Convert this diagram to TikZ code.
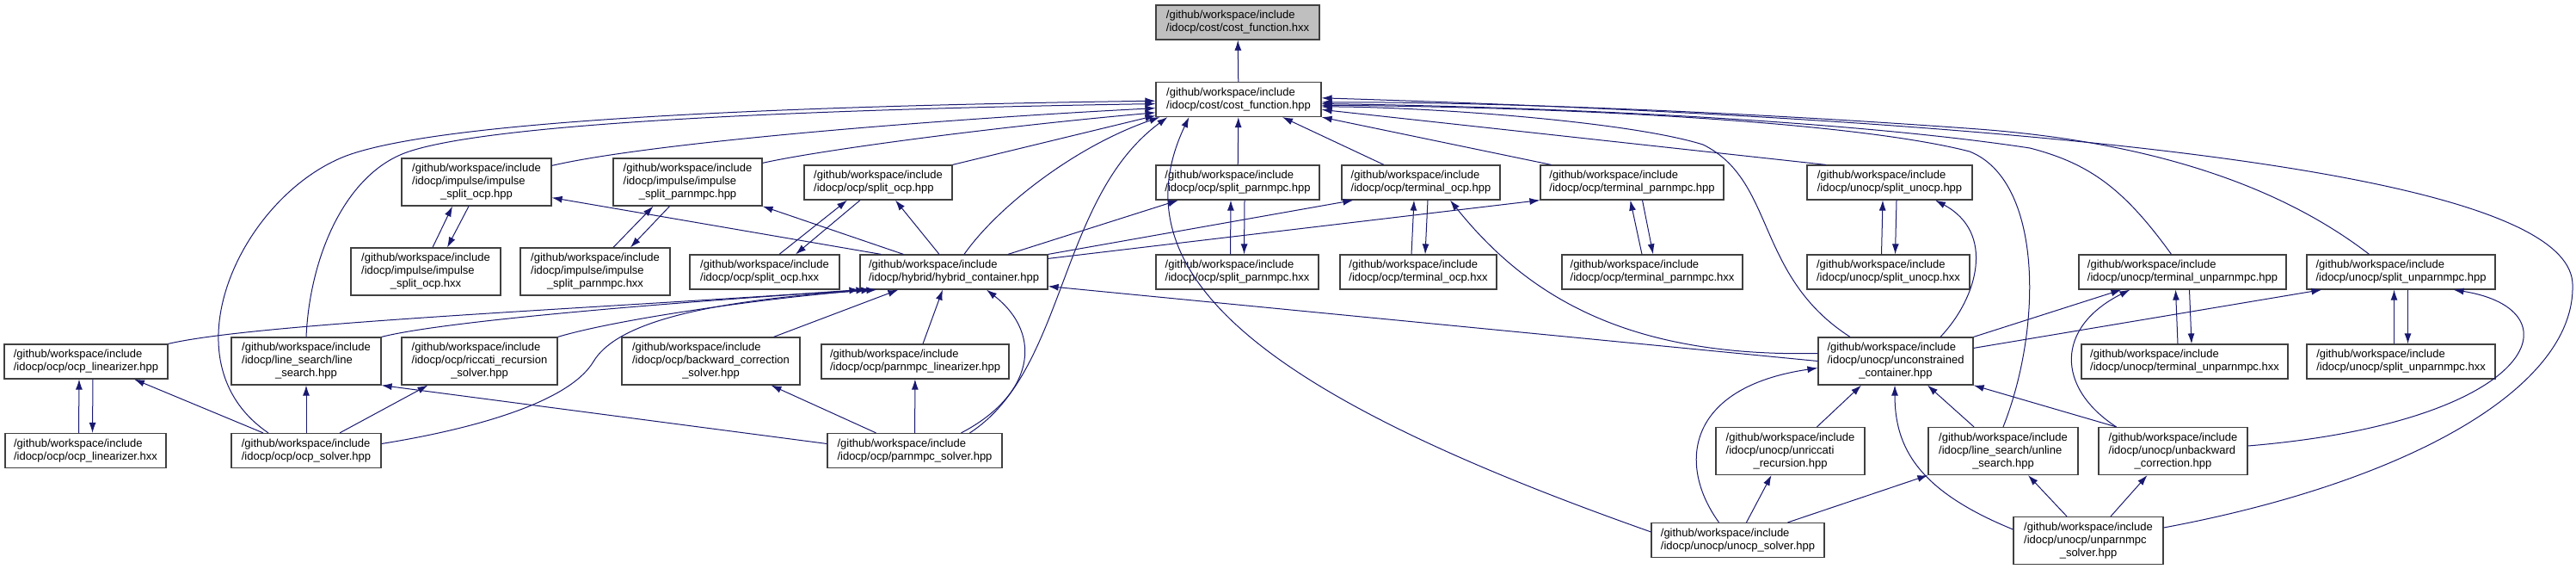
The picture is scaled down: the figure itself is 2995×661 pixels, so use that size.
\documentclass[tikz,border=0pt]{standalone}
\usepackage{fontspec}
\setmainfont{Liberation Sans}
\usepackage{xcolor}
\usepackage{tikz}
\usetikzlibrary{arrows.meta}
\definecolor{edgeblue}{RGB}{25,25,112}
\definecolor{rootgray}{RGB}{191,191,191}
\definecolor{boxline}{RGB}{64,64,64}
\newcommand{\filelines}[3]{\begin{tabular}{@{}l@{}}#1\\#2\\\multicolumn{1}{@{}c@{}}{#3}\end{tabular}}

\begin{document}
\begin{tikzpicture}[x=1pt,y=-1pt]
  % who includes cost_function.hxx
  \tikzset{file/.style={draw=boxline,line width=1.2pt,fill=white,minimum height=40pt,inner sep=0pt,align=left,font=\fontsize{13}{15}\selectfont},
    tall/.style={file,minimum height=55pt},
    root/.style={file,fill=rootgray},
    dep/.style={-{Latex[length=12pt,width=8pt]},draw=edgeblue,line width=1pt}}
  \useasboundingbox (0,0) rectangle (2995,661);
  \node[root,minimum width=190pt] (costhxx) at (1439,26) {/github/workspace/include\\/idocp/cost/cost\_function.hxx};
  \node[file,minimum width=192pt] (costhpp) at (1440,115.5) {/github/workspace/include\\/idocp/cost/cost\_function.hpp};
  \node[tall,minimum width=174pt] (impocp) at (554,211.5) {\filelines{/github/workspace/include}{/idocp/impulse/impulse}{\_split\_ocp.hpp}};
  \node[tall,minimum width=173pt] (imppar) at (799.5,211.5) {\filelines{/github/workspace/include}{/idocp/impulse/impulse}{\_split\_parnmpc.hpp}};
  \node[file,minimum width=172pt] (splitocp) at (1021,212) {/github/workspace/include\\/idocp/ocp/split\_ocp.hpp};
  \node[file,minimum width=190pt] (splitpar) at (1439,212) {/github/workspace/include\\/idocp/ocp/split\_parnmpc.hpp};
  \node[file,minimum width=184pt] (termocp) at (1652,212) {/github/workspace/include\\/idocp/ocp/terminal\_ocp.hpp};
  \node[file,minimum width=213pt] (termpar) at (1897.5,212) {/github/workspace/include\\/idocp/ocp/terminal\_parnmpc.hpp};
  \node[file,minimum width=192pt] (splitunocp) at (2197,212) {/github/workspace/include\\/idocp/unocp/split\_unocp.hpp};
  \node[tall,minimum width=174pt] (impocpx) at (495,315.5) {\filelines{/github/workspace/include}{/idocp/impulse/impulse}{\_split\_ocp.hxx}};
  \node[tall,minimum width=174pt] (impparx) at (692,315.5) {\filelines{/github/workspace/include}{/idocp/impulse/impulse}{\_split\_parnmpc.hxx}};
  \node[file,minimum width=174pt] (splitocpx) at (889,316) {/github/workspace/include\\/idocp/ocp/split\_ocp.hxx};
  \node[file,minimum width=218pt] (hybrid) at (1109,316) {/github/workspace/include\\/idocp/hybrid/hybrid\_container.hpp};
  \node[file,minimum width=189pt] (splitparx) at (1438.5,316) {/github/workspace/include\\/idocp/ocp/split\_parnmpc.hxx};
  \node[file,minimum width=182pt] (termocpx) at (1649,316) {/github/workspace/include\\/idocp/ocp/terminal\_ocp.hxx};
  \node[file,minimum width=210pt] (termparx) at (1921,316) {/github/workspace/include\\/idocp/ocp/terminal\_parnmpc.hxx};
  \node[file,minimum width=189pt] (splitunocpx) at (2195.5,316) {/github/workspace/include\\/idocp/unocp/split\_unocp.hxx};
  \node[file,minimum width=241pt] (termun) at (2537.5,316) {/github/workspace/include\\/idocp/unocp/terminal\_unparnmpc.hpp};
  \node[file,minimum width=219pt] (splitun) at (2791.5,316) {/github/workspace/include\\/idocp/unocp/split\_unparnmpc.hpp};
  \node[file,minimum width=190pt] (ocplin) at (100,420) {/github/workspace/include\\/idocp/ocp/ocp\_linearizer.hpp};
  \node[tall,minimum width=174pt] (linesearch) at (356,419.5) {\filelines{/github/workspace/include}{/idocp/line\_search/line}{\_search.hpp}};
  \node[tall,minimum width=181pt] (riccati) at (557.5,419.5) {\filelines{/github/workspace/include}{/idocp/ocp/riccati\_recursion}{\_solver.hpp}};
  \node[tall,minimum width=207pt] (backcorr) at (826.5,419.5) {\filelines{/github/workspace/include}{/idocp/ocp/backward\_correction}{\_solver.hpp}};
  \node[file,minimum width=218pt] (parlin) at (1064,420) {/github/workspace/include\\/idocp/ocp/parnmpc\_linearizer.hpp};
  \node[tall,minimum width=180pt] (uncon) at (2204,419.5) {\filelines{/github/workspace/include}{/idocp/unocp/unconstrained}{\_container.hpp}};
  \node[file,minimum width=240pt] (termunx) at (2540,420) {/github/workspace/include\\/idocp/unocp/terminal\_unparnmpc.hxx};
  \node[file,minimum width=219pt] (splitunx) at (2791.5,420) {/github/workspace/include\\/idocp/unocp/split\_unparnmpc.hxx};
  \node[file,minimum width=187pt] (ocplinx) at (99.5,523.5) {/github/workspace/include\\/idocp/ocp/ocp\_linearizer.hxx};
  \node[file,minimum width=174pt] (ocpsolver) at (356,523.5) {/github/workspace/include\\/idocp/ocp/ocp\_solver.hpp};
  \node[file,minimum width=203pt] (parsolver) at (1063.5,523.5) {/github/workspace/include\\/idocp/ocp/parnmpc\_solver.hpp};
  \node[tall,minimum width=173pt] (unriccati) at (2081.5,524) {\filelines{/github/workspace/include}{/idocp/unocp/unriccati}{\_recursion.hpp}};
  \node[tall,minimum width=174pt] (unline) at (2329,524) {\filelines{/github/workspace/include}{/idocp/line\_search/unline}{\_search.hpp}};
  \node[tall,minimum width=173pt] (unback) at (2526.5,524) {\filelines{/github/workspace/include}{/idocp/unocp/unbackward}{\_correction.hpp}};
  \node[file,minimum width=201pt] (unocpsolver) at (2020.5,627.5) {/github/workspace/include\\/idocp/unocp/unocp\_solver.hpp};
  \node[tall,minimum width=174pt] (unparsolver) at (2428,628) {\filelines{/github/workspace/include}{/idocp/unocp/unparnmpc}{\_solver.hpp}};
  % into cost_function.hpp
  \draw[dep] (costhpp) -- (costhxx);
  \draw[dep] ([xshift=-44pt]ocpsolver.north) .. controls (190,420) and (280,230) .. (400,182) .. controls (520,135) and (1000,122) .. (costhpp.181);
  \draw[dep] (linesearch.north) .. controls (360,300) and (400,205) .. (470,178) .. controls (570,140) and (1000,126) .. (costhpp.183);
  \draw[dep] ([yshift=-9pt]impocp.north east) .. controls (760,165) and (1100,138) .. (costhpp.186);
  \draw[dep] ([yshift=-6pt]imppar.north east) .. controls (950,175) and (1150,148) .. (costhpp.189);
  \draw[dep] (splitocp.north east) -- (costhpp.191);
  \draw[dep] ([xshift=12pt]hybrid.north) .. controls (1160,240) and (1250,170) .. ([xshift=5pt]costhpp.south west);
  \draw[dep] ([xshift=64pt]parsolver.north) .. controls (1240,430) and (1230,230) .. ([xshift=14pt]costhpp.south west);
  \draw[dep] ([yshift=-11pt]unocpsolver.north west) .. controls (1500,470) and (1290,330) .. ([xshift=39pt]costhpp.south west);
  \draw[dep] (splitpar) -- (costhpp);
  \draw[dep] ([xshift=-43pt]termocp.north) -- ([xshift=51pt]costhpp.south);
  \draw[dep] ([xshift=-94pt]termpar.north) -- (costhpp.south east);
  \draw[dep] ([xshift=-74pt]splitunocp.north) -- (costhpp.-7);
  \draw[dep] ([xshift=-53pt]uncon.north) .. controls (2040,320) and (2065,210) .. (1980,168) .. controls (1890,140) and (1650,124) .. (costhpp.-5);
  \draw[dep] (unline.north) .. controls (2375,380) and (2375,210) .. (2290,176) .. controls (2150,140) and (1800,124) .. (costhpp.-4);
  \draw[dep] ([xshift=-13pt]termun.north) .. controls (2470,220) and (2430,190) .. (2360,172) .. controls (2150,140) and (1800,124) .. (costhpp.-3);
  \draw[dep] ([xshift=-37pt]splitun.north) .. controls (2650,215) and (2500,165) .. (2300,150) .. controls (2000,128) and (1700,118) .. (costhpp.-2);
  \draw[dep] ([yshift=15pt]unparsolver.east) .. controls (2800,560) and (2995,450) .. (2991,330) .. controls (2988,240) and (2700,150) .. (costhpp.1);
  % hpp <-> hxx pairs
  \draw[dep] ([xshift=8pt]impocpx.north) -- ([xshift=-28pt]impocp.south); \draw[dep] ([xshift=-9pt]impocp.south) -- ([xshift=25pt]impocpx.north);
  \draw[dep] ([xshift=21pt]impparx.north) -- ([xshift=-40pt]imppar.south); \draw[dep] ([xshift=-21pt]imppar.south) -- ([xshift=41pt]impparx.north);
  \draw[dep] ([xshift=17pt]splitocpx.north) -- ([xshift=-36pt]splitocp.south); \draw[dep] ([xshift=-21pt]splitocp.south) -- ([xshift=36pt]splitocpx.north);
  \draw[dep] ([xshift=-8pt]splitparx.north) -- ([xshift=-8pt]splitpar.south); \draw[dep] ([xshift=8pt]splitpar.south) -- ([xshift=8pt]splitparx.north);
  \draw[dep] ([xshift=-8pt]termocpx.north) -- ([xshift=-8pt]termocp.south); \draw[dep] ([xshift=8pt]termocp.south) -- ([xshift=8pt]termocpx.north);
  \draw[dep] ([xshift=-12pt]termparx.north) -- ([xshift=-2pt]termpar.south); \draw[dep] ([xshift=12pt]termpar.south) -- ([xshift=1pt]termparx.north);
  \draw[dep] ([xshift=-8pt]splitunocpx.north) -- ([xshift=-8pt]splitunocp.south); \draw[dep] ([xshift=8pt]splitunocp.south) -- ([xshift=8pt]splitunocpx.north);
  \draw[dep] ([xshift=-8pt]termunx.north) -- ([xshift=-8pt]termun.south); \draw[dep] ([xshift=8pt]termun.south) -- ([xshift=8pt]termunx.north);
  \draw[dep] ([xshift=-8pt]splitunx.north) -- ([xshift=-8pt]splitun.south); \draw[dep] ([xshift=8pt]splitun.south) -- ([xshift=8pt]splitunx.north);
  \draw[dep] ([xshift=-8pt]ocplinx.north) -- ([xshift=-8pt]ocplin.south); \draw[dep] ([xshift=8pt]ocplin.south) -- ([xshift=8pt]ocplinx.north);
  % hybrid_container
  \draw[dep] ([xshift=25pt]hybrid.north west) -- ([yshift=10pt]impocp.south east);
  \draw[dep] ([xshift=51pt]hybrid.north west) -- (imppar.south east);
  \draw[dep] ([xshift=-17pt]hybrid.north) -- ([xshift=20pt]splitocp.south);
  \draw[dep] ([xshift=63pt]hybrid.north) -- ([xshift=-69pt]splitpar.south);
  \draw[dep] (hybrid.north east) -- ([xshift=14pt]termocp.south west);
  \draw[dep] ([yshift=-5pt]hybrid.north east) -- (termpar.south west);
  \draw[dep] (ocplin.north east) .. controls (300,375) and (700,358) .. (hybrid.south west);
  \draw[dep] (linesearch.north east) .. controls (520,372) and (800,350) .. ([xshift=8pt]hybrid.south west);
  \draw[dep] (riccati.north east) .. controls (720,370) and (900,345) .. ([xshift=14pt]hybrid.south west);
  \draw[dep] ([yshift=8pt]ocpsolver.east) .. controls (540,500) and (660,470) .. (690,420) .. controls (714,380) and (800,350) .. ([xshift=20pt]hybrid.south west);
  \draw[dep] ([xshift=73pt]backcorr.north) -- ([xshift=45pt]hybrid.south west);
  \draw[dep] ([xshift=9pt]parlin.north) -- ([xshift=-13pt]hybrid.south);
  \draw[dep] ([xshift=54pt]parsolver.north) .. controls (1200,460) and (1215,390) .. ([xshift=38pt]hybrid.south);
  \draw[dep] (uncon.west) -- ([yshift=4pt]hybrid.south east);
  % solvers
  \draw[dep] ([xshift=-50pt]ocpsolver.north) -- ([xshift=56pt]ocplin.south);
  \draw[dep] (ocpsolver) -- (linesearch);
  \draw[dep] ([xshift=39pt]ocpsolver.north) -- ([xshift=-60pt]riccati.south);
  \draw[dep] (parsolver) -- (parlin);
  \draw[dep] ([yshift=8pt]parsolver.west) -- (linesearch.south east);
  \draw[dep] ([xshift=-45pt]parsolver.north) -- ([xshift=70pt]backcorr.south);
  % unconstrained side
  \draw[dep] ([yshift=9pt]uncon.west) .. controls (1900,415) and (1780,350) .. ([xshift=34pt]termocp.south);
  \draw[dep] ([xshift=52pt]uncon.north) .. controls (2300,345) and (2320,270) .. ([xshift=53pt]splitunocp.south);
  \draw[dep] (uncon.north east) -- ([xshift=50pt]termun.south west);
  \draw[dep] ([yshift=-13pt]uncon.north east) -- ([xshift=18pt]splitun.south west);
  \draw[dep] ([xshift=-66pt]unback.north) .. controls (2390,450) and (2390,380) .. ([xshift=60pt]termun.south west);
  \draw[dep] ([yshift=6pt]unback.east) .. controls (2950,490) and (3000,360) .. ([xshift=61pt]splitun.south);
  \draw[dep] ([xshift=31pt]unriccati.north) -- ([xshift=-40pt]uncon.south);
  \draw[dep] ([xshift=-34pt]unline.north) -- ([xshift=37pt]uncon.south);
  \draw[dep] ([xshift=21pt]unback.north west) -- (uncon.south east);
  \draw[dep] ([yshift=13pt]unparsolver.west) .. controls (2230,570) and (2203,520) .. ([xshift=-1pt]uncon.south);
  \draw[dep] ([xshift=-22pt]unocpsolver.north) .. controls (1950,540) and (1960,450) .. ([yshift=-8pt]uncon.west);
  \draw[dep] ([xshift=10pt]unocpsolver.north) -- ([xshift=-22pt]unriccati.south);
  \draw[dep] ([xshift=58pt]unocpsolver.north) -- (unline.south west);
  \draw[dep] ([xshift=-25pt]unparsolver.north) -- ([xshift=29pt]unline.south);
  \draw[dep] ([xshift=26pt]unparsolver.north) -- ([xshift=-30pt]unback.south);
\end{tikzpicture}
\end{document}
